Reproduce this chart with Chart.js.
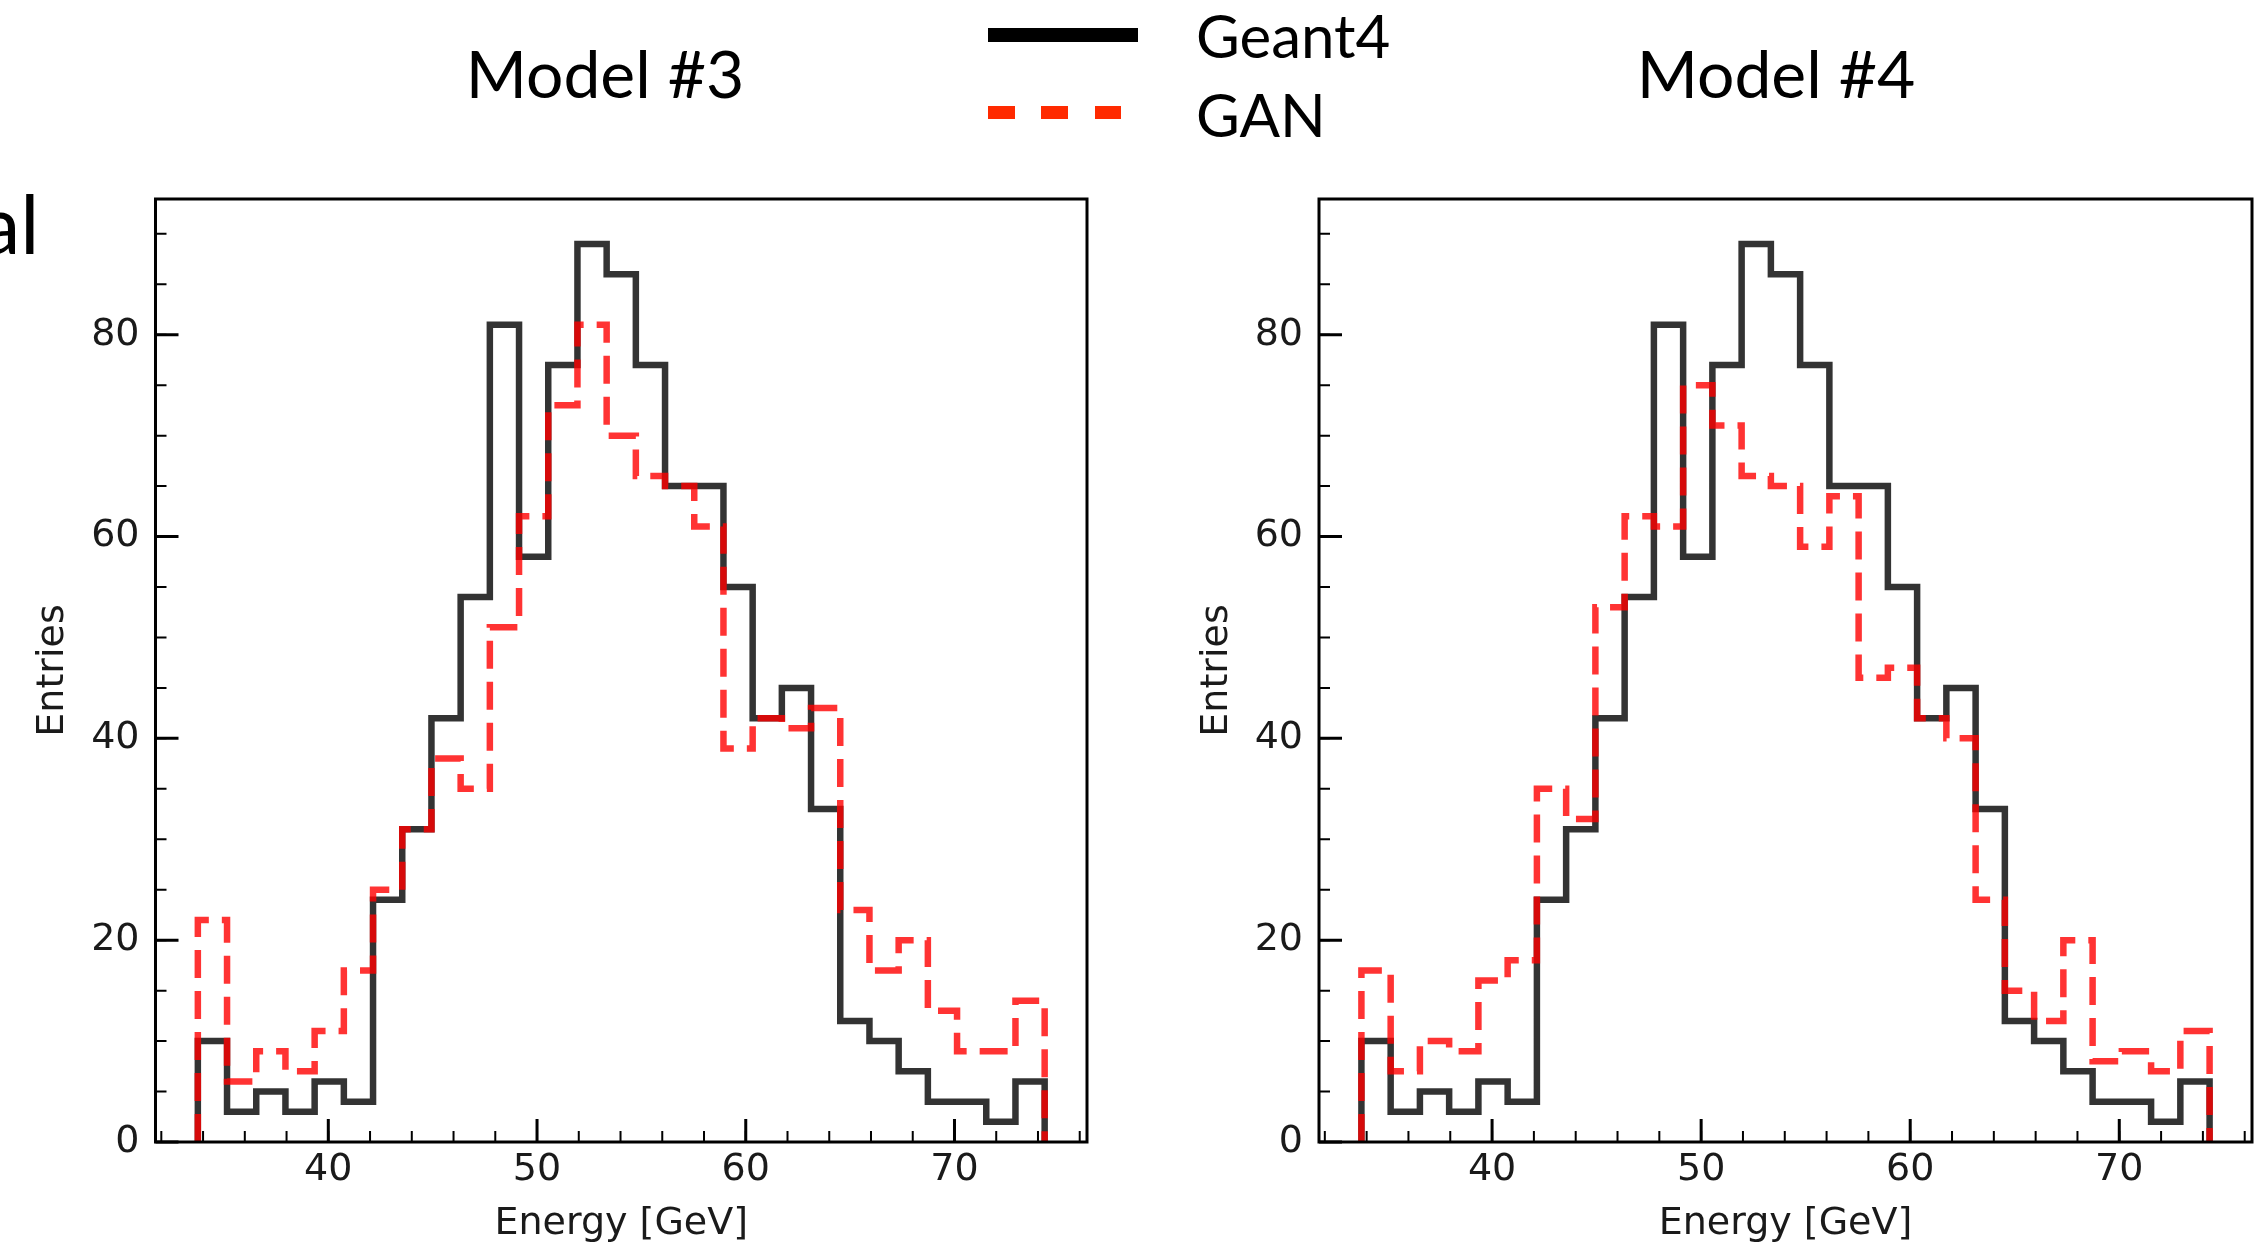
<!DOCTYPE html>
<html lang="en">
<head>
<meta charset="UTF-8">
<title>Geant4 vs GAN</title>
<script src="https://cdn.jsdelivr.net/npm/chart.js"></script>
<style>
    html, body { margin: 0; padding: 0; background: #fff; }
    body { width: 2258px; height: 1247px; position: relative; overflow: hidden; font-family: Lato, "Noto Sans", sans-serif; }
    canvas { position: absolute; top: 0; }
    .txt { position: absolute; line-height: 1; white-space: nowrap; color: #000; }
    .title { font-size: 66px; top: 40px; width: 600px; text-align: center; }
    .leg { font-size: 60px; left: 1196px; }
    .swatch { position: absolute; }
</style>
</head>
<body>

<div class="txt" style="font-size:81px; left:-20px; top:182px;">al</div>

<div class="txt title" style="left:305px;">Model #3</div>
<div class="txt title" style="left:1476px;">Model #4</div>

<div class="swatch" style="left:988px; top:28px; width:150px; height:14px; background:#000;"></div>
<div class="swatch" style="left:988px; top:106px; width:133px; height:13px;
     background: repeating-linear-gradient(to right, #ff2a00 0 27px, transparent 27px 53.5px);"></div>
<div class="txt leg" style="top:5px;">Geant4</div>
<div class="txt leg" style="top:84px;">GAN</div>

<canvas id="chartModel3" width="1129" height="1247" style="left:0;"></canvas>
<canvas id="chartModel4" width="1129" height="1247" style="left:1129px;"></canvas>

<script>
    // histogram range (first and last bin edge, GeV)
    const histLo = 33.75;
    const histHi = 74.32;

    // entries per bin (29 bins)
    const geant4Counts = [10, 3, 5, 3, 6, 4, 24, 31, 42, 54, 81, 58, 77, 89, 86, 77, 65, 65, 55, 42, 45, 33, 12, 10, 7, 4, 4, 2, 6];
    const ganModel3   = [22, 6, 9, 7, 11, 17, 25, 31, 38, 35, 51, 62, 73, 81, 70, 66, 65, 61, 39, 42, 41, 43, 23, 17, 20, 13, 9, 9, 14];
    const ganModel4   = [17, 7, 10, 9, 16, 18, 35, 32, 53, 62, 61, 75, 71, 66, 65, 59, 64, 46, 47, 42, 40, 24, 15, 12, 20, 8, 9, 7, 11];

    // tick labels
    const xMajorTicks = [40, 50, 60, 70];
    const yMajorTicks = [0, 20, 40, 60, 80];
    const xMinorStep = 2;
    const yMinorStep = 5;

    // matplotlib style autoscale: 5% margin on x, 5% headroom on y
    const xMargin = 0.05 * (histHi - histLo);
    const xMin = histLo - xMargin;
    const xMax = histHi + xMargin;
    const yMax = 1.05 * Math.max(...geant4Counts, ...ganModel3, ...ganModel4);

    // outline of a step histogram: one point per bin right edge,
    // 'before' stepping draws the flat top first, then the vertical jump
    function stepPoints(counts) {
        const w = (histHi - histLo) / counts.length;
        const pts = [{x: histLo, y: 0}, {x: histLo, y: counts[0]}];
        for (let i = 0; i < counts.length; i++) {
            const next = i + 1 < counts.length ? counts[i + 1] : 0;
            pts.push({x: histLo + (i + 1) * w, y: next});
        }
        return pts;
    }

    // axes frame and inward ticks like matplotlib
    const frameTicks = {
        id: 'frameTicks',
        afterDraw(chart) {
            const {ctx, chartArea: a, scales: {x, y}} = chart;
            ctx.save();
            ctx.strokeStyle = '#000';
            ctx.lineCap = 'butt';

            ctx.lineWidth = 2;
            ctx.beginPath();
            for (let v = Math.ceil(xMin / xMinorStep) * xMinorStep; v <= xMax; v += xMinorStep) {
                const px = x.getPixelForValue(v);
                ctx.moveTo(px, a.bottom);
                ctx.lineTo(px, a.bottom - 11);
            }
            for (let v = 0; v <= yMax; v += yMinorStep) {
                const py = y.getPixelForValue(v);
                ctx.moveTo(a.left, py);
                ctx.lineTo(a.left + 11, py);
            }
            ctx.stroke();

            ctx.lineWidth = 3;
            ctx.beginPath();
            xMajorTicks.forEach(v => {
                const px = x.getPixelForValue(v);
                ctx.moveTo(px, a.bottom);
                ctx.lineTo(px, a.bottom - 23);
            });
            yMajorTicks.forEach(v => {
                const py = y.getPixelForValue(v);
                ctx.moveTo(a.left, py);
                ctx.lineTo(a.left + 23, py);
            });
            ctx.stroke();

            ctx.lineWidth = 3;
            ctx.strokeRect(a.left, a.top, a.right - a.left, a.bottom - a.top);
            ctx.restore();
        }
    };

    const tickFont = {family: 'DejaVu Sans', size: 38};
    const titleFont = {family: 'DejaVu Sans', size: 38, lineHeight: 1};

    function makeChart(id, ganCounts, yAxisWidth, padRight, yTitlePad) {
        return new Chart(document.getElementById(id), {
            type: 'line',
            data: {
                datasets: [{
                    label: 'GAN',
                    data: stepPoints(ganCounts),
                    borderColor: 'rgba(255, 0, 0, 0.8)',
                    borderWidth: 6.5,
                    borderDash: [28, 13],
                    stepped: 'before',
                    pointRadius: 0,
                    fill: false
                }, {
                    label: 'Geant4',
                    data: stepPoints(geant4Counts),
                    borderColor: 'rgba(0, 0, 0, 0.8)',
                    borderWidth: 6.5,
                    stepped: 'before',
                    pointRadius: 0,
                    fill: false
                }]
            },
            options: {
                responsive: false,
                animation: false,
                events: [],
                layout: {padding: {top: 199, right: padRight, bottom: 0, left: 0}},
                plugins: {legend: {display: false}, tooltip: {enabled: false}},
                scales: {
                    x: {
                        type: 'linear',
                        min: xMin,
                        max: xMax,
                        grid: {display: false, drawTicks: false},
                        border: {display: false},
                        ticks: {font: tickFont, color: '#1a1a1a', padding: 5, maxRotation: 0},
                        afterBuildTicks: s => { s.ticks = xMajorTicks.map(v => ({value: v})); },
                        afterFit: s => { s.height = 105; },
                        title: {display: true, text: 'Energy [GeV]', font: titleFont, color: '#1a1a1a', padding: {top: 0, bottom: 4}}
                    },
                    y: {
                        min: 0,
                        max: yMax,
                        grid: {display: false, drawTicks: false},
                        border: {display: false},
                        ticks: {font: tickFont, color: '#1a1a1a', padding: 16},
                        afterBuildTicks: s => { s.ticks = yMajorTicks.map(v => ({value: v})); },
                        afterFit: s => { s.width = yAxisWidth; },
                        title: {display: true, text: 'Entries', font: titleFont, color: '#1a1a1a', padding: {top: yTitlePad, bottom: 0}}
                    }
                }
            },
            plugins: [frameTicks]
        });
    }

    makeChart('chartModel3', ganModel3, 155.5, 42, 34);
    makeChart('chartModel4', ganModel4, 190, 6, 69);
</script>
</body>
</html>
